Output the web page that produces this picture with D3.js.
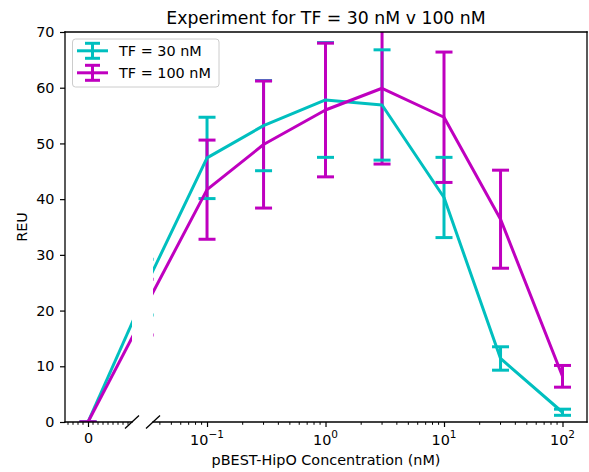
<!DOCTYPE html>
<html>
<head>
<meta charset="utf-8">
<script src="https://cdn.jsdelivr.net/npm/d3@7"></script>
<style>
  html, body { margin: 0; padding: 0; background: #fff; }
  svg { display: block; font-family: "DejaVu Sans", sans-serif; }
</style>
</head>
<body>
<svg id="chart" width="589" height="472"></svg>
<script>
// ---- data ----
const concentrations = [0, 0.03, 0.1, 0.3, 1, 3, 10, 30, 100];
const tf30Values = [0, 24.2, 47.4, 53.2, 57.8, 56.9, 40.3, 11.4, 1.75];
const tf30Errors = [0, 5, 7.3, 8.1, 10.3, 9.9, 7.2, 2.1, 0.55];
const tf100Values = [0, 20.6, 41.7, 49.8, 56.0, 59.9, 54.7, 36.4, 8.2];
const tf100Errors = [0, 5, 8.9, 11.4, 12.0, 13.6, 11.7, 8.8, 1.95];
const seriesNames = ["TF = 30 nM", "TF = 100 nM"];
const seriesColors = ["#00bfbf", "#bf00bf"];
const yTicks = [0, 10, 20, 30, 40, 50, 60, 70];
const logTickExponents = [-1, 0, 1, 2];

const svg = d3.select("#chart");
const plotTop = 32, plotBottom = 422;
const leftX0 = 65, leftX1 = 132, rightX0 = 153, rightX1 = 587;
const fs = "14.4px";

const y = d3.scaleLinear().domain([0, 70]).range([plotBottom, plotTop]);
const xLin = d3.scaleLinear().domain([-0.0115, 0.022]).range([leftX0, leftX1]);
const xLog = d3.scaleLog().domain([0.035, 161]).range([rightX0, rightX1]);

const defs = svg.append("defs");
defs.append("clipPath").attr("id", "clipL").append("rect")
  .attr("x", leftX0).attr("y", plotTop).attr("width", leftX1 - leftX0).attr("height", plotBottom - plotTop);
defs.append("clipPath").attr("id", "clipR").append("rect")
  .attr("x", rightX0).attr("y", plotTop).attr("width", rightX1 - rightX0).attr("height", plotBottom - plotTop);

const series = [
  {name: seriesNames[0], color: seriesColors[0], values: tf30Values, errors: tf30Errors},
  {name: seriesNames[1], color: seriesColors[1], values: tf100Values, errors: tf100Errors}
];

const capHalf = 8.5, lw = 3;

function drawPanel(xs, clipId, usableIdx) {
  const g = svg.append("g").attr("clip-path", `url(#${clipId})`);
  series.forEach(s => {
    usableIdx.forEach(i => {
      const cx = xs(concentrations[i]);
      g.append("line")
        .attr("x1", cx).attr("x2", cx)
        .attr("y1", y(s.values[i] - s.errors[i])).attr("y2", y(s.values[i] + s.errors[i]))
        .attr("stroke", s.color).attr("stroke-width", lw);
    });
  });
  series.forEach(s => {
    const pts = usableIdx.map(i => [xs(concentrations[i]), y(s.values[i])]);
    g.append("path")
      .attr("d", d3.line()(pts))
      .attr("fill", "none").attr("stroke", s.color).attr("stroke-width", lw)
      .attr("stroke-linejoin", "round").attr("stroke-linecap", "butt");
    usableIdx.forEach(i => {
      const cx = xs(concentrations[i]);
      [s.values[i] - s.errors[i], s.values[i] + s.errors[i]].forEach(v => {
        g.append("line")
          .attr("x1", cx - capHalf).attr("x2", cx + capHalf)
          .attr("y1", y(v)).attr("y2", y(v))
          .attr("stroke", s.color).attr("stroke-width", lw);
      });
    });
  });
}

drawPanel(xLin, "clipL", [0, 1]);
drawPanel(xLog, "clipR", concentrations.map((c, i) => i).filter(i => concentrations[i] > 0));

// ---- spines ----
const axisColor = "#000";
const spine = (x1, y1, x2, y2) => svg.append("line")
  .attr("x1", x1).attr("y1", y1).attr("x2", x2).attr("y2", y2)
  .attr("stroke", axisColor).attr("stroke-width", 1.3).attr("stroke-linecap", "square");
spine(leftX0, plotTop, rightX1, plotTop);
spine(leftX0, plotTop, leftX0, plotBottom);
spine(rightX1, plotTop, rightX1, plotBottom);
spine(leftX0, plotBottom, leftX1, plotBottom);
spine(rightX0, plotBottom, rightX1, plotBottom);

[leftX1, rightX0].forEach(bx => {
  svg.append("line")
    .attr("x1", bx - 7).attr("y1", plotBottom + 6.5)
    .attr("x2", bx + 7).attr("y2", plotBottom - 6.5)
    .attr("stroke", axisColor).attr("stroke-width", 1.3);
});

// ---- y axis ----
const yAxis = d3.axisLeft(y).tickValues(yTicks).tickSize(5).tickPadding(5.5);
const gy = svg.append("g").attr("transform", `translate(${leftX0},0)`).call(yAxis);
gy.select(".domain").remove();
gy.selectAll("line").attr("stroke-width", 1.2);
gy.selectAll("text").attr("font-size", fs).attr("font-family", "DejaVu Sans").attr("fill", "#000");

// ---- x axis, left (linear) ----
const gxl = svg.append("g").attr("transform", `translate(0,${plotBottom})`)
  .call(d3.axisBottom(xLin).tickValues([0]).tickFormat(d3.format("d")).tickSize(5).tickPadding(6));
gxl.select(".domain").remove();
gxl.selectAll("line").attr("stroke-width", 1.2);
gxl.selectAll("text").attr("font-size", fs).attr("font-family", "DejaVu Sans").attr("fill", "#000");
const minorLin = d3.range(-0.01, 0.0221, 0.0025).filter(v => Math.abs(v) > 1e-9 && xLin(v) >= leftX0 && xLin(v) <= leftX1 - 3);
svg.append("g").selectAll("line").data(minorLin).join("line")
  .attr("x1", d => xLin(d)).attr("x2", d => xLin(d))
  .attr("y1", plotBottom).attr("y2", plotBottom + 2.8)
  .attr("stroke", axisColor).attr("stroke-width", 1);

// ---- x axis, right (log) ----
const majorLog = logTickExponents.map(e => Math.pow(10, e));
const gxr = svg.append("g").attr("transform", `translate(0,${plotBottom})`)
  .call(d3.axisBottom(xLog).tickValues(majorLog).tickFormat("").tickSize(5));
gxr.select(".domain").remove();
gxr.selectAll("line").attr("stroke-width", 1.2);
const minorLog = [];
[-2, -1, 0, 1, 2].forEach(e => {
  for (let m = 2; m <= 9; m++) {
    const v = m * Math.pow(10, e);
    if (v >= xLog.domain()[0] && v <= xLog.domain()[1]) minorLog.push(v);
  }
});
svg.append("g").selectAll("line").data(minorLog).join("line")
  .attr("x1", d => xLog(d)).attr("x2", d => xLog(d))
  .attr("y1", plotBottom).attr("y2", plotBottom + 2.8)
  .attr("stroke", axisColor).attr("stroke-width", 1);
logTickExponents.forEach(e => {
  const t = svg.append("text")
    .attr("x", xLog(Math.pow(10, e))).attr("y", plotBottom + 22.5)
    .attr("text-anchor", "middle").attr("font-size", fs).attr("fill", "#000");
  t.append("tspan").text("10");
  t.append("tspan").attr("dy", -6.5).attr("font-size", "10.5px").text(e < 0 ? "\u2212" + Math.abs(e) : String(e));
});

// ---- labels ----
svg.append("text").attr("x", (leftX0 + rightX1) / 2).attr("y", 23.5)
  .attr("text-anchor", "middle").attr("font-size", "17.3px").attr("fill", "#000")
  .text("Experiment for TF = 30 nM v 100 nM");
svg.append("text").attr("x", (leftX0 + rightX1) / 2).attr("y", 465)
  .attr("text-anchor", "middle").attr("font-size", fs).attr("fill", "#000")
  .text("pBEST-HipO Concentration (nM)");
svg.append("text").attr("transform", `translate(27,${(plotTop + plotBottom) / 2}) rotate(-90)`)
  .attr("text-anchor", "middle").attr("font-size", fs).attr("fill", "#000")
  .text("REU");

// ---- legend ----
const lg = svg.append("g");
lg.append("rect").attr("x", 72.5).attr("y", 39).attr("width", 146.5).attr("height", 48)
  .attr("rx", 3).attr("fill", "#fff").attr("fill-opacity", 0.8)
  .attr("stroke", "#cccccc").attr("stroke-width", 1);
series.forEach((s, i) => {
  const cy = 50.8 + i * 22;
  lg.append("line").attr("x1", 77).attr("x2", 108).attr("y1", cy).attr("y2", cy)
    .attr("stroke", s.color).attr("stroke-width", lw);
  lg.append("line").attr("x1", 92.5).attr("x2", 92.5).attr("y1", cy - 7.5).attr("y2", cy + 7.5)
    .attr("stroke", s.color).attr("stroke-width", lw);
  [cy - 7.5, cy + 7.5].forEach(cyy => lg.append("line")
    .attr("x1", 92.5 - 7.5).attr("x2", 92.5 + 7.5).attr("y1", cyy).attr("y2", cyy)
    .attr("stroke", s.color).attr("stroke-width", lw));
  lg.append("text").attr("x", 119).attr("y", cy + 5.5)
    .attr("font-size", fs).attr("fill", "#000").text(s.name);
});
</script>
</body>
</html>
